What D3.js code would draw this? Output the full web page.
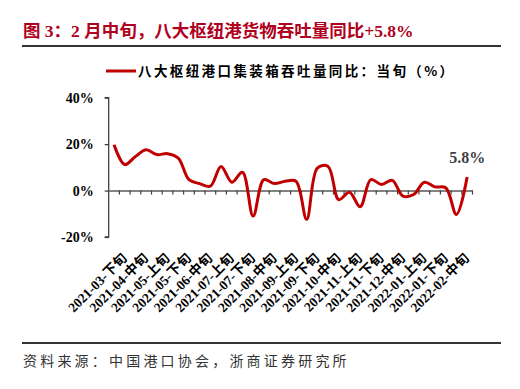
<!DOCTYPE html>
<html><head><meta charset="utf-8">
<script src="https://cdn.jsdelivr.net/npm/d3@7/dist/d3.min.js"></script>
<style>body{margin:0;background:#fff}svg{display:block}</style>
</head><body>
<script>
const categories = ["2021-03-中旬","2021-03-下旬","2021-04-上旬","2021-04-中旬","2021-04-下旬","2021-05-上旬","2021-05-中旬","2021-05-下旬","2021-06-上旬","2021-06-中旬","2021-06-下旬","2021-07-上旬","2021-07-中旬","2021-07-下旬","2021-08-上旬","2021-08-中旬","2021-08-下旬","2021-09-上旬","2021-09-中旬","2021-09-下旬","2021-10-上旬","2021-10-中旬","2021-10-下旬","2021-11-上旬","2021-11-中旬","2021-11-下旬","2021-12-上旬","2021-12-中旬","2021-12-下旬","2022-01-上旬","2022-01-中旬","2022-01-下旬","2022-02-上旬","2022-02-中旬"];
const values = [19.7,11.2,14.7,17.6,15.5,15.9,14.0,4.7,3.0,1.9,10.4,3.6,7.9,-11.0,4.7,3.0,4.0,4.0,-12.4,9.7,10.4,-3.9,-0.7,-7.0,4.7,2.6,4.4,-2.4,-1.7,3.6,1.6,1.2,-10.3,5.8];
const yTicks = [-20,0,20,40];
const title = "图 3：2 月中旬，八大枢纽港货物吞吐量同比+5.8%";
const legendLabel = "八大枢纽港口集装箱吞吐量同比：当旬（%）";
const source = "资料来源：中国港口协会，浙商证券研究所";
const endLabel = "5.8%";

const W = 520, H = 389;
const svg = d3.select("body").append("svg").attr("width", W).attr("height", H);

// title
svg.append("text").attr("x", 23).attr("y", 37)
  .attr("font-family", "'Liberation Serif','Noto Sans CJK SC'")
  .attr("font-weight", "bold").attr("font-size", 17.5).attr("fill", "#b00020")
  .text(title);
svg.append("line").attr("x1", 22).attr("x2", 501).attr("y1", 46).attr("y2", 46)
  .attr("stroke", "#333").attr("stroke-width", 2);

// legend
svg.append("line").attr("x1", 106).attr("x2", 136).attr("y1", 71).attr("y2", 71)
  .attr("stroke", "#c00000").attr("stroke-width", 3);
svg.append("text").attr("x", 138).attr("y", 76)
  .attr("font-family", "'Noto Sans CJK SC'").attr("font-weight", "bold")
  .attr("font-size", 13.5).attr("letter-spacing", 2.4).attr("fill", "#000").text(legendLabel);

// scales
const x = d3.scaleBand().domain(categories).range([108.7, 472.5]).padding(0);
const y = d3.scaleLinear().domain([-20, 40]).range([237, 97.7]);

// y axis
const yAxis = svg.append("g").attr("transform", "translate(108.7,0)")
  .call(d3.axisLeft(y).tickValues(yTicks).tickSize(4).tickPadding(11).tickFormat(d => d + "%"));
yAxis.select(".domain").attr("stroke", "#404040").attr("stroke-width", 1.3).attr("d", `M-4,${y(-20)}H0V${y(40)}H-4`);
yAxis.selectAll(".tick line").attr("stroke", "#404040").attr("stroke-width", 1.3);
yAxis.selectAll(".tick text").attr("font-family", "'Liberation Serif'").attr("font-weight", "bold")
  .attr("font-size", 14).attr("fill", "#000");

// x axis at zero
const xAxis = svg.append("g").attr("transform", `translate(0,${y(0)})`)
  .call(d3.axisBottom(x).tickSize(0).tickFormat(""));
xAxis.select(".domain").attr("stroke", "#595959").attr("stroke-width", 1.5);
xAxis.selectAll(".tick").remove();
const bounds = categories.slice(1).map(c => x(c)).concat([x.range()[1]]);
xAxis.selectAll(".btick").data(bounds).enter().append("line")
  .attr("x1", d => d).attr("x2", d => d).attr("y1", 0).attr("y2", 4)
  .attr("stroke", "#404040").attr("stroke-width", 1.2);

// x labels (every other, odd indices)
const lab = svg.append("g");
categories.forEach((c, i) => {
  if (i % 2 !== 1) return;
  const cx = x(c) + x.bandwidth() / 2 + 3;
  lab.append("text").attr("transform", `translate(${cx},259) rotate(-45)`)
    .attr("text-anchor", "end")
    .attr("font-family", "'Liberation Serif','Noto Sans CJK SC'")
    .attr("font-weight", "bold").attr("font-size", 13.5).attr("fill", "#000")
    .text(c);
});

// line
const line = d3.line().x((d, i) => x(categories[i]) + x.bandwidth() / 2).y(d => y(d))
  .curve(d3.curveCatmullRom.alpha(0.5));
svg.append("path").datum(values).attr("d", line).attr("fill", "none")
  .attr("stroke", "#c00000").attr("stroke-width", 3).attr("stroke-linejoin", "round");

// end label
const li = values.length - 1;
svg.append("text").attr("x", x(categories[li]) + x.bandwidth() / 2).attr("y", 163)
  .attr("text-anchor", "middle")
  .attr("font-family", "'Liberation Serif'").attr("font-weight", "bold")
  .attr("font-size", 16).attr("fill", "#404040").text(endLabel);

// footer
svg.append("line").attr("x1", 22).attr("x2", 501).attr("y1", 343).attr("y2", 343)
  .attr("stroke", "#333").attr("stroke-width", 2);
svg.append("text").attr("x", 23).attr("y", 366)
  .attr("font-family", "'Noto Sans CJK SC'").attr("font-size", 14).attr("letter-spacing", 3.2).attr("fill", "#333")
  .text(source);
</script>
</body></html>
